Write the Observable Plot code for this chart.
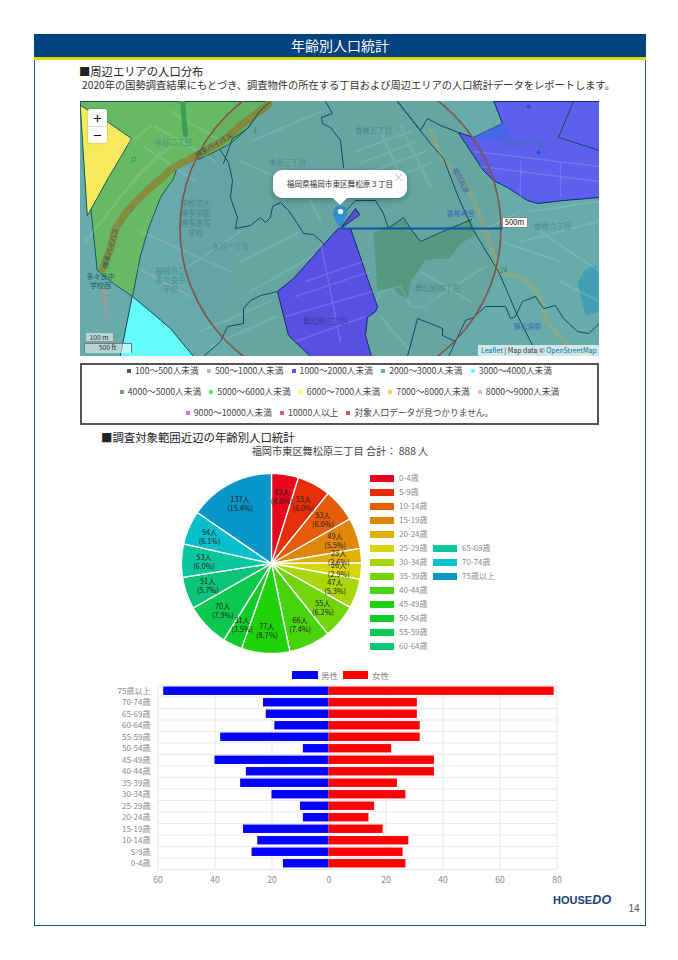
<!DOCTYPE html>
<html lang="ja"><head><meta charset="utf-8">
<script src="https://cdn.jsdelivr.net/npm/d3@7"></script>
<script src="https://cdn.jsdelivr.net/npm/@observablehq/plot@0.6"></script>
<style>
html,body{margin:0;padding:0;background:#fff}
#page{position:relative;width:678px;height:960px;overflow:hidden;font-family:"Noto Sans CJK JP","Noto Sans",sans-serif;color:#333}
#page>*{position:absolute}
svg{display:block;overflow:hidden}
.t{white-space:nowrap;line-height:1}
</style></head><body><div id="page"></div>
<script>
// ---------- age data ----------
const ages = ["0-4歳","5-9歳","10-14歳","15-19歳","20-24歳","25-29歳","30-34歳","35-39歳","40-44歳","45-49歳","50-54歳","55-59歳","60-64歳","65-69歳","70-74歳","75歳以上"];
const male = [16,27,25,30,9,10,20,31,29,40,9,38,19,22,23,58];
const female = [27,26,28,19,14,16,27,24,37,37,22,32,32,31,31,79];
const totals = [43,53,53,49,23,26,47,55,66,77,31,70,51,53,54,137];
const shares = ["4.8","6.0","6.0","5.5","2.6","2.9","5.3","6.2","7.4","8.7","3.5","7.9","5.7","6.0","6.1","15.4"];
const pieColors = ["#e8061f","#e62e0a","#e55c0a","#e0860a","#e3b008","#d6d60a","#a8d608","#72d40a","#48d40c","#1fd20a","#10cc2a","#0cc84e","#0cc478","#0ac69c","#08c0cc","#0896c8"];
const barTicks = [-60,-40,-20,0,20,40,60,80];
// ---------- legend data ----------
const densityRows = [
 [["100〜500人未満","#555"],["500〜1000人未満","#bbb"],["1000〜2000人未満","#5a5ae8"],["2000〜3000人未満","#66b0a8"],["3000〜4000人未満","#66ffff"]],
 [["4000〜5000人未満","#6aa56a"],["5000〜6000人未満","#66ee66"],["6000〜7000人未満","#ffff66"],["7000〜8000人未満","#ffcc66"],["8000〜9000人未満","#ffb3cc"]],
 [["9000〜10000人未満","#ee66ee"],["10000人以上","#dd5577"],["対象人口データが見つかりません。","#dd5555"]]
];
// ---------- map layers (map units) ----------
const mapW = 519, mapH = 255;
const blueZone = [[99,59],[137,49],[148,61],[152,79],[150,96],[157,116],[155,127],[150,180],[123,255],[113,255],[52,195],[68,127],[93,77]];
const leftBase = [[0,155],[17,169],[33,182],[52,195],[70,210],[90,227],[113,255],[0,255]];
const greenZone = [[0,0],[190,0],[180,9],[167,27],[150,42],[137,49],[120,57],[99,59],[93,77],[80,96],[68,127],[60,154],[53,190],[52,195],[33,182],[17,169],[0,155]];
const yellowZone = [[0,4],[28,21],[51,37],[40,56],[28,76],[17,96],[7,114],[0,126]];
const cyanZone = [[52,195],[70,210],[90,227],[113,255],[40,255],[42,234]];
const greyPatch = [[99,59],[120,57],[93,77]];
const parkZone = [[293,132],[322,117],[340,140],[391,118],[395,133],[379,143],[369,157],[345,158],[330,180],[327,199],[312,187],[297,190],[290,170]];
const lake = [[497,182],[503,170],[510,165],[517,165],[519,172],[519,210],[505,214],[497,200]];
const schoolYard = [[18,187],[28,187],[28,232],[18,232]];
const purpleCentre = [[258,127],[270,127],[277,147],[287,177],[297,205],[295,210],[287,216],[285,234],[291,255],[230,255],[208,234],[197,190],[213,177],[240,149]];
const purpleBand = [[260,127],[275,107],[279,113],[270,127]];
const purpleRight = [[378,31],[393,36],[422,22],[415,4],[413,0],[519,0],[519,96],[483,99],[457,102],[447,99],[427,86],[413,79],[403,69],[392,46]];
const bluePatch = [[393,36],[422,22],[430,28],[428,40],[405,44]];
const boundaries = [
 [[140,49],[148,61],[152,79],[150,96],[157,116],[155,127],[170,124],[180,116],[185,121],[190,116],[192,105],[200,101],[208,109],[217,122],[223,132],[233,133],[243,142]],
 [[245,0],[252,12],[241,16],[242,22],[250,26],[260,39],[263,66]],
 [[263,112],[275,99],[295,99],[303,112],[308,127],[315,122],[323,116],[330,127],[340,140],[360,131],[391,118]],
 [[317,0],[340,29],[347,17],[360,24],[378,31]],
 [[317,0],[350,42],[363,57],[378,96],[393,129],[418,170],[437,214],[452,244],[458,255]],
 [[337,217],[350,222],[362,227],[362,234],[375,240],[385,219],[393,216],[405,205],[425,205],[430,217],[435,215],[442,200],[455,195],[463,207],[475,204],[483,217],[497,230],[508,232],[519,222]],
 [[327,255],[337,217]],
 [[123,255],[140,240],[147,225],[163,222],[163,207],[170,199],[180,194],[197,190]],
 [[493,0],[478,36],[519,49]],
 [[190,0],[180,9],[167,27],[152,37],[143,62]],
 [[375,240],[368,255]]
];
const streets = [
 [[63,45],[115,80]],[[75,25],[135,60]],[[90,10],[150,45]],[[60,70],[90,45]],[[40,95],[80,50]],[[5,140],[60,70]],[[30,55],[70,25]],
 [[275,50],[330,30]],[[280,62],[335,40]],[[285,72],[345,50]],[[290,85],[350,62]],[[300,30],[325,85]],[[320,25],[350,85]],
 [[287,216],[300,190],[320,185],[330,205],[345,205]],[[160,160],[220,130]],[[170,190],[240,150]],[[120,230],[190,200]],[[130,245],[195,215]],
 [[440,140],[519,120]],[[420,140],[480,160]],[[460,130],[519,170]],[[480,180],[519,200]],
 [[55,165],[110,195]],[[60,130],[150,170]],[[100,170],[160,130]],[[170,40],[240,10]],[[160,60],[230,90]],[[215,70],[240,120]],
 [[300,215],[330,250]],[[340,170],[390,200]],[[350,200],[405,165]],[[400,130],[440,110]],[[450,110],[519,100]]
];
const purpleStreets = [[[225,180],[283,160]],[[215,195],[290,170]],[[205,215],[292,190]],[[215,240],[285,215]],[[240,140],[260,240]],[[393,50],[519,65]],[[400,65],[519,80]],[[440,60],[440,95]],[[480,60],[480,95]]];
const bypass = [[188,3],[160,24],[143,39],[120,52],[93,66],[67,89],[47,109],[35,127],[30,147],[22,167]];
const rightRoad = [[350,29],[363,59],[387,86],[403,122],[418,170],[443,177],[457,190],[467,220],[487,244],[505,255]];
const greenRoad = [[102,0],[105,33]];
const radiusLine = [[260,127],[421,127]];
const pinShape = [[260,127],[254,116],[253,111],[255,106],[260,104],[265,106],[267,111],[266,116]];
const mapCentre = [{x:260,y:127}];
const pinHead = [{x:260,y:110}];
const greyLabels = [
 ["水谷二丁目",93,41,0],["水谷三丁目",207,61,0],["香椎五丁目",293,29,0],["香椎六丁目",472,125,0],["水谷一丁目",150,145,0],["舞松原四丁目",357,187,0],
 ["学校法人",115,102,0],["博多学園",115,112,0],["博多高等",115,122,0],["学校",115,132,0],["福岡市立",90,170,0],["多々良中",90,179,0],["学校",90,188,0]
];
const darkLabels = [["多々良中",20,175,0],["学校西",20,184,0],["博多バイパス",133,44,-30],["博多バイパス",30,147,-75]];
const blueLabels = [["香椎台一丁目",443,42,0],["香椎神宮",380,112,0],["舞松原駅",447,225,0],["福岡高速",380,79,62]];
const purpleLabels = [["舞松原三丁目",245,220,0]];
const routeNumbers = [["24",423,169,0],["3",51,107,0],["1",175,29,0]];
const blueDots = [{x:448,y:5},{x:458,y:51}];

const FONT = '"Noto Sans CJK JP","Noto Sans",sans-serif';
const page = document.getElementById("page");
function box(x,y,w,h,css){const d=document.createElement("div");d.style.cssText=`left:${x}px;top:${y}px;width:${w}px;height:${h}px;${css||""}`;page.appendChild(d);return d;}
function txt(s,x,y,size,css){const d=document.createElement("div");d.className="t";d.textContent=s;d.style.cssText=`left:${x}px;top:${y}px;font-size:${size}px;${css||""}`;page.appendChild(d);return d;}
function place(svg,x,y){svg.style.left=x+"px";svg.style.top=y+"px";svg.style.position="absolute";page.appendChild(svg);}

// ---------- page frame ----------
box(34,34,610,890,"border:1px solid #1f5a8a");
box(34,34,612,23,"background:#01427f");
box(34,57,612,3,"background:#dcd800");
txt("年齢別人口統計",34,38,14,"width:612px;text-align:center;color:#fff");
txt("■周辺エリアの人口分布",79,66,11.3,"color:#222");
txt("2020年の国勢調査結果にもとづき、調査物件の所在する丁目および周辺エリアの人口統計データをレポートします。",82,80,10.25,"color:#333");

// ---------- map ----------
const poly = c => ({type:"Polygon",coordinates:[c]});
const lines = a => ({type:"MultiLineString",coordinates:a});
const labelMark = (rows,fill,fontSize) => Plot.text(rows,{x:d=>d[1],y:d=>d[2],text:d=>d[0],rotate:d=>d[3],fill,fontSize,fontFamily:FONT});
const mapSvg = Plot.plot({
  width:mapW,height:mapH,margin:0,
  projection:{type:"identity"},
  style:{background:"#67acaa",fontFamily:FONT},
  marks:[
    Plot.geo([poly(leftBase)],{fill:"#6ea2ae",stroke:"none"}),
    Plot.geo([poly(blueZone)],{fill:"#6aa3b0",fillOpacity:.35,stroke:"none"}),
    Plot.geo([poly(lake)],{fill:"#459fb4",stroke:"none"}),
    Plot.geo([poly(schoolYard)],{fill:"#84a2a2",stroke:"none"}),
    Plot.geo([poly(parkZone)],{fill:"#559f85",stroke:"none"}),
    Plot.geo([poly(greenZone)],{fill:"#68b964",stroke:"#115a58",strokeWidth:1}),
    Plot.geo([poly(yellowZone)],{fill:"#f8ea5c",stroke:"#115a58",strokeWidth:1}),
    Plot.geo([poly(cyanZone)],{fill:"#66fbfb",stroke:"#0e4a5a",strokeWidth:1}),
    Plot.geo([poly(greyPatch)],{fill:"#7f9fa0",stroke:"#0e4a5a",strokeWidth:1}),
    Plot.geo([lines(streets)],{stroke:"#bfe6e0",strokeOpacity:.17,strokeWidth:2.2,fill:"none"}),
    Plot.geo([{type:"LineString",coordinates:bypass}],{stroke:"#848e40",strokeWidth:7.5,fill:"none"}),
    Plot.geo([{type:"LineString",coordinates:rightRoad}],{stroke:"#82ab90",strokeWidth:5,fill:"none"}),
    Plot.geo([{type:"LineString",coordinates:greenRoad}],{stroke:"#3d9d55",strokeWidth:5,fill:"none"}),
    Plot.geo([poly(purpleRight)],{fill:"#5c5cf0",fillOpacity:.95,stroke:"#0c2a70",strokeWidth:1}),
    Plot.geo([poly(bluePatch)],{fill:"#4a66e8",stroke:"none"}),
    Plot.geo([poly(purpleCentre)],{fill:"#5a52ee",stroke:"#0c2a70",strokeWidth:1}),
    Plot.geo([poly(purpleBand)],{fill:"#5a52d8",stroke:"#0c2a70",strokeWidth:1}),
    Plot.geo([lines(purpleStreets)],{stroke:"#a8a8ff",strokeOpacity:.3,strokeWidth:1.5,fill:"none"}),
    Plot.geo([lines(boundaries)],{stroke:"#0e4a5e",strokeWidth:1,fill:"none"}),
    Plot.dot(blueDots,{x:"x",y:"y",r:2,fill:"#1a50f0"}),
    labelMark(greyLabels,"#4a8f8c",7.5),
    labelMark(darkLabels,"#1b5f5f",7),
    labelMark(blueLabels,"#3a6fb8",7),
    labelMark(purpleLabels,"#403aa8",7.5),
    labelMark(routeNumbers,"#3f7f70",7),
    Plot.text([["P",53,60]],{x:d=>d[1],y:d=>d[2],text:d=>d[0],fill:"#2aa05a",fontSize:9,fontFamily:FONT}),
    Plot.dot(mapCentre,{x:"x",y:"y",r:160.5,fill:"#553322",fillOpacity:.05,stroke:"#84514a",strokeWidth:1.6}),
    Plot.geo([{type:"LineString",coordinates:radiusLine}],{stroke:"#1050a8",strokeWidth:2,fill:"none"}),
    Plot.geo([poly(pinShape)],{fill:"#2f8fd0",stroke:"#2a78b8",strokeWidth:.5}),
    Plot.dot(pinHead,{x:"x",y:"y",r:2.6,fill:"#fff"})
  ]
});
place(mapSvg,80,101);
// Leaflet controls
box(88,109,19,34,"background:#fff;border-radius:2px;box-shadow:0 0 2px rgba(0,0,0,.3)");
box(88,126,19,1,"background:#ddd");
txt("+",88,110,15,"width:19px;text-align:center;color:#111;line-height:15px");
txt("−",88,127,15,"width:19px;text-align:center;color:#111;line-height:15px");
box(273,170,134,28,"background:#fff;border-radius:9px;box-shadow:0 2px 6px rgba(0,0,0,.3)");
box(335,193,10,10,"background:#fff;transform:rotate(45deg)");
txt("福岡県福岡市東区舞松原３丁目",273,180,7.6,"width:134px;text-align:center;color:#333");
txt("×",393,172,11,"color:#c3c3c3");
box(502,217,24,9,"background:#fff;border:1px solid #888;box-sizing:content-box");
txt("500m",502,218,7.5,"width:25px;text-align:center;color:#111");
box(85,333,27,8,"background:rgba(255,255,255,.5);border:1px solid #8a9a9a;border-top:none");
txt("100 m",85,334,6.8,"width:28px;text-align:center;color:#333");
box(84,343,46,9,"background:rgba(255,255,255,.5);border:1px solid #777;border-bottom:none");
txt("500 ft",84,344,6.8,"width:47px;text-align:center;color:#333");
box(478,345,121,12,"background:rgba(255,255,255,.7)");
{const a=txt("",481,347,6.9,"color:#333");a.innerHTML='<span style="color:#0078a8">Leaflet</span> | Map data © <span style="color:#0078a8">OpenStreetMap</span>';}

// ---------- density legend ----------
box(80,363,515,58,"border:2px solid #555");
densityRows.forEach((row,i)=>{
  const r=document.createElement("div");
  r.className="t";
  r.style.cssText=`left:80px;width:519px;top:${366+i*21.2}px;text-align:center;font-size:8.7px;color:#444;line-height:10px`;
  r.innerHTML=row.map(([s,c])=>`<span style="display:inline-block;margin:0 4.1px"><span style="display:inline-block;width:4px;height:4px;background:${c};margin-right:4px;vertical-align:1px"></span>${s}</span>`).join("");
  page.appendChild(r);
});
txt("■調査対象範囲近辺の年齢別人口統計",101,432,11.4,"color:#222");
txt("福岡市東区舞松原三丁目 合計： 888 人",34,446,10.2,"width:612px;text-align:center;color:#444");

// ---------- pie ----------
const total = d3.sum(totals);
const cum = d3.cumsum(totals);
const angleAt = v => v/total*2*Math.PI;
const pieRows = ages.map((age,i)=>{
  const a0=angleAt(i?cum[i-1]:0), a1=angleAt(cum[i]), mid=(a0+a1)/2;
  const arc=d3.range(0,41).map(k=>{const t=a0+(a1-a0)*k/40;return [Math.sin(t),-Math.cos(t)];});
  return {age, label:`${totals[i]}人\n(${shares[i]}%)`, lx:.75*Math.sin(mid), ly:-.75*Math.cos(mid),
    type:"Feature", geometry:{type:"Polygon",coordinates:[[[0,0],...arc,[0,0]]]}};
});
const pieSvg = Plot.plot({
  width:200,height:200,margin:0,
  projection:{type:"identity",domain:{type:"MultiPoint",coordinates:[[-1,-1],[1,1]]},inset:10},
  color:{type:"ordinal",domain:ages,range:pieColors},
  style:{background:"transparent",fontFamily:FONT},
  marks:[
    Plot.geo(pieRows,{fill:d=>d.age,stroke:"#fff",strokeWidth:1.3}),
    Plot.text(pieRows,{x:"lx",y:"ly",text:"label",fill:"#222",fontSize:7.3,lineHeight:1.25,fontFamily:FONT})
  ]
});
place(pieSvg,171,463);
ages.forEach((a,i)=>{
  const second=i>=13, row=second?i-13:i;
  const x=second?433:370, y=second?548+row*14:478+row*14;
  box(x,y-3.5,24,7,`background:${pieColors[i]}`);
  txt(a,x+29,y-4.5,8,"color:#8a8a8a");
});

// ---------- pyramid ----------
const rows = ages.map((age,i)=>({age,m:male[i],f:female[i]}));
const pyrSvg = Plot.plot({
  width:480,height:215,marginLeft:57.5,marginRight:23.5,marginTop:5,marginBottom:26,
  x:{domain:[-60,80]},
  y:{type:"band",domain:[...ages].reverse(),paddingInner:.27,paddingOuter:.135,round:false},
  style:{background:"transparent",fontFamily:FONT},
  marks:[
    Plot.gridX(barTicks,{stroke:"#e6e6e6",strokeOpacity:1}),
    Plot.ruleY(ages,{y:d=>d,dy:5.75,stroke:"#e9e9e9"}),
    Plot.ruleY(["75歳以上"],{y:d=>d,dy:-5.75,stroke:"#e9e9e9"}),
    Plot.barX(rows,{x1:0,x2:d=>-d.m,y:"age",fill:"#0000ff"}),
    Plot.barX(rows,{x1:0,x2:"f",y:"age",fill:"#ff0000"}),
    Plot.axisX({ticks:barTicks,tickFormat:d=>Math.abs(d),tickSize:0,tickPadding:7,color:"#888",fontSize:8.5,label:null}),
    Plot.axisY({tickSize:0,tickPadding:7.5,color:"#888",fontSize:8,label:null})
  ]
});
place(pyrSvg,100,680);
box(292,671,25.5,8,"background:#0000ff");
txt("男性",321,670.5,8.5,"color:#888");
box(342.5,671,25.5,8,"background:#ff0000");
txt("女性",372,670.5,8.5,"color:#888");

// ---------- footer ----------
{const l=txt("",553,893.5,11,"font-family:'Liberation Sans',sans-serif;font-weight:700;color:#1d3f76");l.innerHTML='HOUSE<i style="font-size:12.5px;font-weight:900;letter-spacing:.3px">DO</i>';}
txt("14",628.5,904,10,"font-family:'Liberation Sans',sans-serif;color:#555");
</script></body></html>
